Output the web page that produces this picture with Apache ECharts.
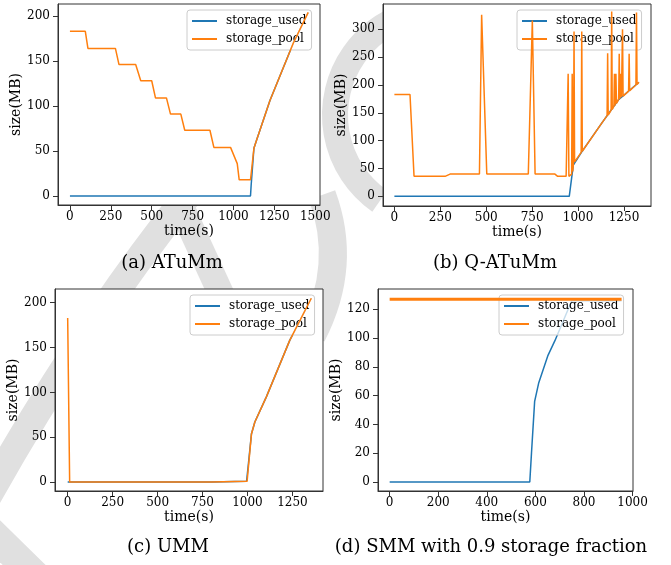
<!DOCTYPE html>
<html><head><meta charset="utf-8">
<script src="https://cdn.jsdelivr.net/npm/echarts@6/dist/echarts.min.js"></script>
<style>html,body{margin:0;padding:0;background:#fff}#c{width:671px;height:565px}</style>
</head><body><div id="c"></div>
<script>
// ---------------- data ----------------
const seriesNames = ['storage_used', 'storage_pool'];
const captions = ['(a) ATuMm', '(b) Q-ATuMm', '(c) UMM', '(d) SMM with 0.9 storage fraction'];
const xName = 'time(s)';
const yName = 'size(MB)';

// (a) ATuMm
const aUsedT = [0, 1104, 1108, 1125, 1141, 1223, 1366, 1457];
const aUsedV = [0, 0, 12, 53, 62, 106, 170, 204];
const aPoolT = [0, 94, 110, 278, 300, 402, 433, 500, 523, 590, 615, 678, 702, 856, 880, 982, 1023, 1035, 1104, 1125, 1141, 1223, 1366, 1457];
const aPoolV = [183, 183, 164, 164, 146, 146, 128, 128, 109, 109, 91, 91, 73, 73, 54, 54, 36, 18, 18, 53, 62, 106, 170, 204];
const aXTicks = [0, 250, 500, 750, 1000, 1250, 1500];
const aYTicks = [0, 50, 100, 150, 200];

// (b) Q-ATuMm
const bUsedT = [0, 952, 974, 1020, 1128, 1219, 1331];
const bUsedV = [0, 0, 56, 80, 131, 173, 205];
const bPoolT = [0, 85, 107, 276, 303, 463, 475, 484, 503, 729, 751, 766, 874, 889, 935, 946, 950, 965, 968, 971, 975, 978, 981, 1017, 1020, 1023, 1128, 1158, 1161, 1164, 1180, 1183, 1186, 1195, 1198, 1201, 1204, 1206, 1209, 1221, 1224, 1227, 1230, 1233, 1236, 1239, 1242, 1245, 1275, 1278, 1281, 1315, 1318, 1321, 1331];
const bPoolV = [183, 183, 36, 36, 40, 40, 326, 326, 40, 40, 316, 40, 40, 36, 36, 220, 36, 40, 220, 45, 60, 296, 62, 79, 296, 81, 131, 145, 257, 146, 155, 332, 156, 162, 220, 163, 165, 220, 167, 174, 256, 175, 177, 220, 178, 179, 300, 180, 189, 256, 190, 200, 330, 201, 205];
const bXTicks = [0, 250, 500, 750, 1000, 1250];
const bYTicks = [0, 50, 100, 150, 200, 250, 300];

// (c) UMM
const cUsedT = [0, 800, 995, 1005, 1022, 1041, 1105, 1235, 1355];
const cUsedV = [0, 0, 1, 20, 53.5, 67, 95, 158, 205];
const cPoolT = [0, 6, 11, 800, 998, 1022, 1041, 1105, 1235, 1355];
const cPoolV = [183, 183, 0, 0, 1, 53.5, 67, 95, 158, 205];
const cXTicks = [0, 250, 500, 750, 1000, 1250];
const cYTicks = [0, 50, 100, 150, 200];

// (d) SMM with 0.9 storage fraction
const dUsedT = [0, 577, 584, 597, 614, 652, 680, 735, 751, 955];
const dUsedV = [0, 0, 20, 56, 69, 88, 98, 120, 126, 126];
const dPoolT = [0, 955];
const dPoolV = [127, 127];
const dXTicks = [0, 200, 400, 600, 800, 1000];
const dYTicks = [0, 20, 40, 60, 80, 100, 120];

// ---------------- layout ----------------
const BLUE = '#1f77b4', ORANGE = '#ff7f0e';
const FONT = '"DejaVu Serif", serif';
const zip = (t, v) => t.map((x, i) => [x, v[i]]);
const plain = v => String(v);

const panels = [
  { grid: {left: 58, top: 4, width: 262, height: 201}, x: [-73, 1529], y: [-10, 213.3],
    xt: aXTicks, yt: aYTicks, used: zip(aUsedT, aUsedV), pool: zip(aPoolT, aPoolV),
    legend: {left: 187, top: 10}, cap: [172, 263], poolW: 1.5 },
  { grid: {left: 383, top: 4, width: 268, height: 202}, x: [-62, 1397], y: [-17.3, 345.5],
    xt: bXTicks, yt: bYTicks, used: zip(bUsedT, bUsedV), pool: zip(bPoolT, bPoolV),
    legend: {left: 517, top: 10}, cap: [495, 263], poolW: 1.5 },
  { grid: {left: 55, top: 289, width: 268, height: 202}, x: [-70.5, 1420], y: [-10, 215.3],
    xt: cXTicks, yt: cYTicks, used: zip(cUsedT, cUsedV), pool: zip(cPoolT, cPoolV),
    legend: {left: 190, top: 295}, cap: [168, 547], poolW: 1.5 },
  { grid: {left: 378, top: 289, width: 255, height: 202}, x: [-48, 1002], y: [-6.3, 134.1],
    xt: dXTicks, yt: dYTicks, used: zip(dUsedT, dUsedV), pool: zip(dPoolT, dPoolV),
    legend: {left: 499, top: 295}, cap: [491, 547], poolW: 3 }
];

const option = {
  animation: false,
  backgroundColor: '#ffffff',
  grid: [], xAxis: [], yAxis: [], series: [], legend: [],
  graphic: { elements: [] }
};

// light watermark strokes in the background
const wm = {stroke: '#e0e0e0', fill: null};
option.graphic.elements.push(
  {type: 'arc', z: -5, shape: {cx: 440, cy: 115, r: 105, startAngle: 125 * Math.PI / 180, endAngle: 250 * Math.PI / 180, clockwise: true}, style: Object.assign({lineWidth: 26}, wm)},
  {type: 'bezierCurve', z: -5, shape: {x1: 188, y1: 195, x2: -20, y2: 510, cpx1: 80, cpy1: 330}, style: Object.assign({lineWidth: 28}, wm)},
  {type: 'line', z: -5, shape: {x1: 178, y1: 200, x2: 222, y2: 296}, style: Object.assign({lineWidth: 26}, wm)},
  {type: 'bezierCurve', z: -5, shape: {x1: 322, y1: 195, x2: 312, y2: 335, cpx1: 348, cpy1: 265}, style: Object.assign({lineWidth: 28}, wm)},
  {type: 'line', z: -5, shape: {x1: -30, y1: 512, x2: 62, y2: 602}, style: Object.assign({lineWidth: 30}, wm)}
);

panels.forEach((p, i) => {
  option.grid.push(Object.assign({show: true, backgroundColor: '#ffffff', borderColor: '#333333', borderWidth: 1, containLabel: false, z: 0}, p.grid));
  option.xAxis.push({
    type: 'value', gridIndex: i, min: p.x[0], max: p.x[1],
    name: xName, nameLocation: 'middle', nameGap: 19,
    nameTextStyle: {fontFamily: FONT, fontSize: 14, color: '#000'},
    axisLine: {show: true, onZero: false, lineStyle: {color: '#333333', width: 1}},
    axisTick: {show: true, inside: false, length: 5, customValues: p.xt, lineStyle: {color: '#333333'}},
    axisLabel: {customValues: p.xt, formatter: plain, margin: 6, fontFamily: FONT, fontSize: 12, color: '#000'},
    splitLine: {show: false}
  });
  option.yAxis.push({
    type: 'value', gridIndex: i, min: p.y[0], max: p.y[1],
    name: yName, nameLocation: 'middle', nameGap: 25, nameRotate: 90,
    nameTextStyle: {fontFamily: FONT, fontSize: 14, color: '#000'},
    axisLine: {show: true, onZero: false, lineStyle: {color: '#333333', width: 1}},
    axisTick: {show: true, inside: false, length: 5, customValues: p.yt, lineStyle: {color: '#333333'}},
    axisLabel: {customValues: p.yt, formatter: plain, margin: 8, fontFamily: FONT, fontSize: 12, color: '#000'},
    splitLine: {show: false}
  });
  option.series.push(
    {type: 'line', name: seriesNames[0], xAxisIndex: i, yAxisIndex: i, data: p.used, showSymbol: false,
     color: BLUE, lineStyle: {color: BLUE, width: 1.5}, z: 3},
    {type: 'line', name: seriesNames[1], xAxisIndex: i, yAxisIndex: i, data: p.pool, showSymbol: false,
     color: ORANGE, lineStyle: {color: ORANGE, width: p.poolW}, z: 4}
  );
  option.legend.push({
    data: seriesNames, orient: 'vertical', left: p.legend.left, top: p.legend.top,
    icon: 'rect', itemWidth: 25, itemHeight: 2, itemGap: 4,
    padding: [4, 5, 4, 5], backgroundColor: 'rgba(255,255,255,0.75)',
    borderColor: '#cccccc', borderWidth: 1, borderRadius: 3,
    textStyle: {fontFamily: FONT, fontSize: 12, color: '#000', lineHeight: 14, padding: [0, 0, 0, 4]},
    selectedMode: false
  });
  option.graphic.elements.push({
    type: 'text', z: 10, x: p.cap[0], y: p.cap[1],
    style: {text: captions[i], font: '18px "DejaVu Serif", serif', fill: '#000', align: 'center', verticalAlign: 'middle'}
  });
});

const chart = echarts.init(document.getElementById('c'), null, {renderer: 'canvas'});
chart.setOption(option);
</script>
</body></html>
